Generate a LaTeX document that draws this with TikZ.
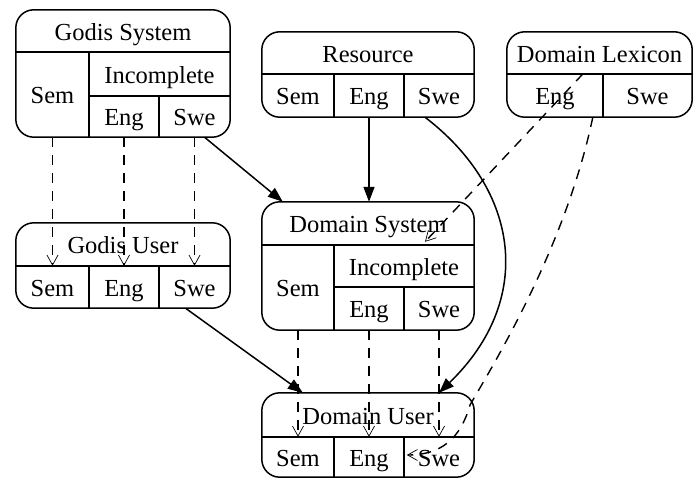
\documentclass[tikz,border=0pt]{standalone}
\usepackage{fontspec}
\setmainfont{Liberation Serif}
\usetikzlibrary{arrows.meta,calc}
\tikzset{
  box/.style={draw, line width=1.5pt, rounded corners=18pt},
  sep/.style={line width=1.5pt},
  cell/.style={inner sep=0pt, font=\fontsize{24.5}{29}\selectfont, text height=21pt, text depth=2pt},
  dep/.style={line width=1.4pt, dash pattern=on 10pt off 8pt, -{Straight Barb[length=10pt,width=11pt,line width=0.7pt]}},
  flow/.style={line width=1.5pt, -{Triangle[length=15pt,width=11pt]}},
}
\begin{document}
\begin{tikzpicture}[x=1pt,y=-1pt]
\useasboundingbox (0,0) rectangle (694,478);
% Godis System
\node[cell, minimum width=214pt, minimum height=42pt] (gsT) at (123,31) {Godis System};
\node[cell, minimum width=73pt, minimum height=85pt] (gsSem) at (52.5,94.5) {Sem};
\node[cell, minimum width=141pt, minimum height=44pt] (gsInc) at (159.5,74) {Incomplete};
\node[cell, minimum width=70pt, minimum height=41pt] (gsEng) at (124,116.5) {Eng};
\node[cell, minimum width=71pt, minimum height=41pt] (gsSwe) at (194.5,116.5) {Swe};
\draw[box] (gsT.north west) rectangle (gsSwe.south east);
\draw[sep] (gsT.south west) -- (gsT.south east);
\draw[sep] (gsSem.north east) -- (gsSem.south east);
\draw[sep] (gsInc.south west) -- (gsInc.south east);
\draw[sep] (gsEng.north east) -- (gsEng.south east);
% Godis User
\node[cell, minimum width=214pt, minimum height=43pt] (guT) at (123,244.5) {Godis User};
\node[cell, minimum width=73pt, minimum height=42pt] (guSem) at (52.5,287) {Sem};
\node[cell, minimum width=70pt, minimum height=42pt] (guEng) at (124,287) {Eng};
\node[cell, minimum width=71pt, minimum height=42pt] (guSwe) at (194.5,287) {Swe};
\draw[box] (guT.north west) rectangle (guSwe.south east);
\draw[sep] (guT.south west) -- (guT.south east);
\draw[sep] (guSem.north east) -- (guSem.south east);
\draw[sep] (guEng.north east) -- (guEng.south east);
% Resource
\node[cell, minimum width=212pt, minimum height=42pt] (rsT) at (368,53) {Resource};
\node[cell, minimum width=72pt, minimum height=43pt] (rsSem) at (298,95.5) {Sem};
\node[cell, minimum width=70pt, minimum height=43pt] (rsEng) at (369,95.5) {Eng};
\node[cell, minimum width=70pt, minimum height=43pt] (rsSwe) at (439,95.5) {Swe};
\draw[box] (rsT.north west) rectangle (rsSwe.south east);
\draw[sep] (rsT.south west) -- (rsT.south east);
\draw[sep] (rsSem.north east) -- (rsSem.south east);
\draw[sep] (rsEng.north east) -- (rsEng.south east);
% Domain Lexicon
\node[cell, minimum width=185pt, minimum height=42pt] (dlT) at (599.5,53) {Domain Lexicon};
\node[cell, minimum width=96pt, minimum height=43pt] (dlEng) at (555,95.5) {Eng};
\node[cell, minimum width=89pt, minimum height=43pt] (dlSwe) at (647.5,95.5) {Swe};
\draw[box] (dlT.north west) rectangle (dlSwe.south east);
\draw[sep] (dlT.south west) -- (dlT.south east);
\draw[sep] (dlEng.north east) -- (dlEng.south east);
% Domain System
\node[cell, minimum width=212pt, minimum height=43pt] (dsT) at (368,223.5) {Domain System};
\node[cell, minimum width=72pt, minimum height=85pt] (dsSem) at (298,287.5) {Sem};
\node[cell, minimum width=140pt, minimum height=42pt] (dsInc) at (404,266) {Incomplete};
\node[cell, minimum width=70pt, minimum height=43pt] (dsEng) at (369,308.5) {Eng};
\node[cell, minimum width=70pt, minimum height=43pt] (dsSwe) at (439,308.5) {Swe};
\draw[box] (dsT.north west) rectangle (dsSwe.south east);
\draw[sep] (dsT.south west) -- (dsT.south east);
\draw[sep] (dsSem.north east) -- (dsSem.south east);
\draw[sep] (dsInc.south west) -- (dsInc.south east);
\draw[sep] (dsEng.north east) -- (dsEng.south east);
% Domain User
\node[cell, minimum width=212pt, minimum height=44pt] (duT) at (368,415) {Domain User};
\node[cell, minimum width=72pt, minimum height=40pt] (duSem) at (298,457) {Sem};
\node[cell, minimum width=70pt, minimum height=40pt] (duEng) at (369,457) {Eng};
\node[cell, minimum width=70pt, minimum height=40pt] (duSwe) at (439,457) {Swe};
\draw[box] (duT.north west) rectangle (duSwe.south east);
\draw[sep] (duT.south west) -- (duT.south east);
\draw[sep] (duSem.north east) -- (duSem.south east);
\draw[sep] (duEng.north east) -- (duEng.south east);
% connectors
\draw[dep] (gsSem.south) -- (guSem.north);
\draw[dep] (gsEng.south) -- (guEng.north);
\draw[dep] (gsSwe.south) -- (guSwe.north);
\draw[flow] ($(gsSwe.south)+(10,0)$) -- ($(dsT.north west)+(21,0)$);
\draw[flow] (rsEng.south) -- (rsEng.south |- dsT.north);
\draw[flow] ($(rsSwe.south)+(-14,0)$) .. controls (520,190) and (535,300) .. (duSwe.north |- duT.north);
\draw[dep] ($(dlEng.north)+(28,0)$) -- ($(dsInc.north)+(21,-3)$);
\draw[flow] ($(guSwe.south)+(-9,0)$) -- ($(duT.north west)+(41,0)$);
\draw[dep] (dsSem.south) -- (duSem.north);
\draw[dep] (dsEng.south) -- (duEng.north);
\draw[dep] (dsSwe.south) -- (duSwe.north);
\draw[dep] ($(dlSwe.south west)+(-10,0)$) .. controls (565,250) and (490,370) .. (470,405) .. controls (460,440) and (440,455) .. ($(duSwe.west)+(3,-2)$);
\end{tikzpicture}
\end{document}
